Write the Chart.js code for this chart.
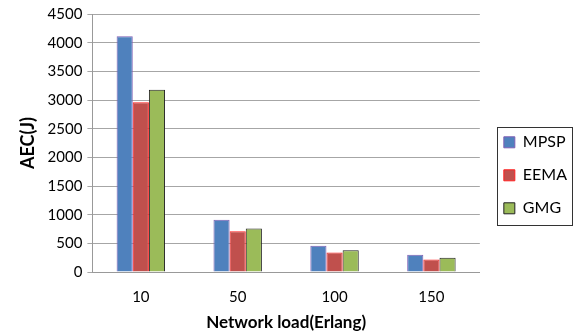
<!DOCTYPE html>
<html>
<head>
<meta charset="utf-8">
<script src="https://cdn.jsdelivr.net/npm/chart.js@4"></script>
<style>
  html, body { margin: 0; padding: 0; background: #fff; }
  #wrap { width: 574px; height: 331px; }
</style>
</head>
<body>
<div id="wrap"><canvas id="barChartCanva"></canvas></div>
<script>
// Data
var loads = ['10', '50', '100', '150'];
var mpsp = [4110, 910, 460, 300];
var eema = [2960, 710, 340, 220];
var gmg = [3180, 760, 380, 250];

var fontFamily = 'Lato, "Liberation Sans", sans-serif';

// nudges the legend right and draws a frame round its items
var legendFrame = {
    id: 'legendFrame',
    afterLayout: function (chart) {
        chart.legend.left += 7;
        chart.legend.right += 7;
    },
    afterDraw: function (chart) {
        var boxes = chart.legend.legendHitBoxes;
        if (!boxes || !boxes.length) return;
        var first = boxes[0], last = boxes[boxes.length - 1];
        var top = first.top + first.height / 2 - 15;
        var bottom = last.top + last.height / 2 + 17;
        var ctx = chart.ctx;
        ctx.save();
        ctx.strokeStyle = '#333';
        ctx.lineWidth = 1;
        ctx.strokeRect(497.5, Math.round(top) + 0.5, 75, Math.round(bottom - top));
        ctx.restore();
    }
};

var ctx = document.getElementById('barChartCanva').getContext('2d');

var chartData = {
    labels: loads,
    datasets: [
        { label: 'MPSP', data: mpsp, backgroundColor: '#4F81BD', borderColor: '#7F5FB5', borderWidth: 1 },
        { label: 'EEMA', data: eema, backgroundColor: '#C0504D', borderColor: '#FF2020', borderWidth: 1 },
        { label: 'GMG', data: gmg, backgroundColor: '#9BBB59', borderColor: '#222', borderWidth: 1 }
    ]
};

var chartOptions = {
    responsive: true,
    maintainAspectRatio: false,
    animation: false,
    layout: { padding: { left: 13, top: 8, right: 4, bottom: 0 } },
    datasets: {
        bar: { barPercentage: 1.0, categoryPercentage: 0.5 }
    },
    plugins: {
        legend: {
            position: 'right',
            // empty title only pushes the items down a little
            title: { display: true, text: ' ', font: { size: 8 }, padding: 1 },
            labels: {
                boxWidth: 11,
                boxHeight: 11,
                padding: 17,
                color: '#000',
                font: { family: fontFamily, size: 16 }
            }
        },
        tooltip: { enabled: false }
    },
    scales: {
        x: {
            grid: { display: false },
            border: { color: '#999' },
            ticks: { color: '#000', font: { family: fontFamily, size: 15 }, padding: 8 },
            title: {
                display: true,
                text: 'Network load(Erlang)',
                color: '#000',
                font: { family: fontFamily, size: 17, weight: 'bold', lineHeight: 1 },
                padding: { top: 0, bottom: 0 }
            }
        },
        y: {
            min: 0,
            max: 4500,
            ticks: {
                stepSize: 500,
                color: '#000',
                font: { family: fontFamily, size: 15 },
                padding: 5,
                callback: function (v) { return String(v); }
            },
            grid: { color: '#A6A6A6', tickLength: 5 },
            border: { color: '#999' },
            title: {
                display: true,
                text: 'AEC(J)',
                color: '#000',
                font: { family: fontFamily, size: 18, weight: 'bold' }
            }
        }
    }
};

var barChart = new Chart(ctx, {
    type: 'bar',
    data: chartData,
    options: chartOptions,
    plugins: [legendFrame]
});
</script>
</body>
</html>
